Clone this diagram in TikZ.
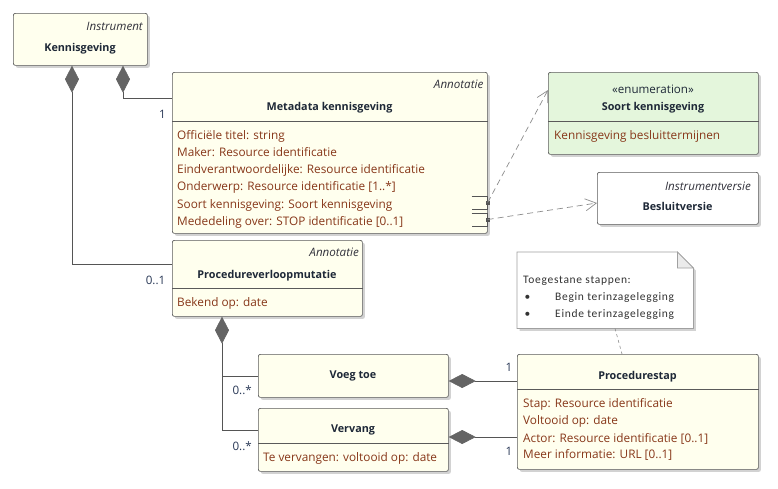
\documentclass[tikz,border=0pt]{standalone}
\usepackage{fontspec}
\setmainfont{Open Sans}
\newfontfamily\notefont[LetterSpace=6]{Carlito}
\usetikzlibrary{arrows.meta,shadows,calc}
\definecolor{clsfill}{RGB}{255,255,238}
\definecolor{enumfill}{RGB}{228,246,220}
\definecolor{boxline}{RGB}{90,90,90}
\definecolor{attrcol}{RGB}{135,55,25}
\definecolor{titlecol}{RGB}{30,40,55}
\definecolor{stereocol}{RGB}{50,50,60}
\definecolor{multcol}{RGB}{40,55,85}
\definecolor{linecol}{RGB}{85,85,85}
\definecolor{diacol}{RGB}{100,100,100}
\definecolor{dashcol}{RGB}{140,140,140}
\definecolor{notecol}{RGB}{160,160,160}
\tikzset{
  cbox/.style={draw=boxline, line width=0.7pt, rounded corners=2pt, anchor=north west, inner sep=0pt, fill=clsfill,
    drop shadow={shadow xshift=2.5pt, shadow yshift=-2.5pt, fill=black!35, opacity=0.5}},
  divider/.style={draw=boxline, line width=0.7pt},
  attr/.style={anchor=base west, inner sep=0pt, text=attrcol, font=\fontsize{11.8}{13}\selectfont},
  ctitle/.style={anchor=base, inner sep=0pt, text=titlecol, font=\fontsize{10.8}{12}\selectfont\bfseries},
  stereo/.style={anchor=base east, inner sep=0pt, text=stereocol, font=\fontsize{11.6}{13}\selectfont\itshape},
  mult/.style={anchor=base east, inner sep=0pt, text=multcol, font=\fontsize{11.6}{13}\selectfont},
  conn/.style={draw=linecol, line width=0.7pt},
  comp/.style={conn, {Diamond[length=27pt,width=14pt,fill=diacol,color=diacol]}-},
  dep/.style={draw=dashcol, line width=0.7pt, dash pattern=on 6pt off 4pt, -{Straight Barb[length=11pt,width=12pt]}},
  notetext/.style={anchor=base west, inner sep=0pt, text=black!80, font=\notefont\fontsize{11.5}{13}\selectfont},
}
\begin{document}
\begin{tikzpicture}[x=1pt,y=-1pt]
\useasboundingbox (0,0) rectangle (778,488);

% ---------- boxes ----------
\node[cbox, minimum width=134pt, minimum height=52pt] (kg) at (13,13) {};
\node[cbox, minimum width=315pt, minimum height=161pt] (md) at (172,72) {};
\node[cbox, fill=enumfill, minimum width=210pt, minimum height=82pt] (en) at (548,72) {};
\node[cbox, fill=white, minimum width=161pt, minimum height=52pt] (bv) at (597,172) {};
\node[cbox, minimum width=190pt, minimum height=76pt] (pv) at (172,240) {};
\node[cbox, minimum width=190pt, minimum height=43pt] (vt) at (258,354) {};
\node[cbox, minimum width=190pt, minimum height=63pt] (vv) at (258,408) {};
\node[cbox, minimum width=241pt, minimum height=115pt] (ps) at (517,354) {};

% dividers
\draw[divider] ($(md.north west)+(0,49)$) -- ($(md.north east)+(0,49)$);
\draw[divider] ($(en.north west)+(0,49)$) -- ($(en.north east)+(0,49)$);
\draw[divider] ($(pv.north west)+(0,48)$) -- ($(pv.north east)+(0,48)$);
\draw[divider] ($(vv.north west)+(0,35)$) -- ($(vv.north east)+(0,35)$);
\draw[divider] ($(ps.north west)+(0,35)$) -- ($(ps.north east)+(0,35)$);

% note
\node[anchor=north west, minimum width=176pt, minimum height=76pt, inner sep=0pt] (nt) at (517,252) {};
\fill[black!35, opacity=0.5] ($(nt.north west)+(2.5,2.5)$) -- ($(nt.north east)+(-13.5,2.5)$) -- ($(nt.north east)+(2.5,18.5)$) -- ($(nt.south east)+(2.5,2.5)$) -- ($(nt.south west)+(2.5,2.5)$) -- cycle;
\draw[draw=notecol, fill=white, line width=0.7pt] (nt.north west) -- ($(nt.north east)+(-16,0)$) -- ($(nt.north east)+(0,16)$) -- (nt.south east) -- (nt.south west) -- cycle;
\draw[draw=notecol, fill=black!8, line width=0.7pt] ($(nt.north east)+(-16,0)$) -- ($(nt.north east)+(-16,16)$) -- ($(nt.north east)+(0,16)$) -- cycle;

% ---------- texts ----------
\node[stereo] (kgs) at (143,30) {Instrument};
\node[ctitle] (kgt) at (80,51) {Kennisgeving};

\node[stereo] (mds) at (483.5,88) {Annotatie};
\node[ctitle] (mdt) at (329.5,110) {Metadata kennisgeving};
\node[attr] (mda1) at (177,139.2) {Officiële titel: string};
\node[attr] (mda2) at (177,156.4) {Maker: Resource identificatie};
\node[attr] (mda3) at (177,173.6) {Eindverantwoordelijke: Resource identificatie};
\node[attr] (mda4) at (177,190.8) {Onderwerp: Resource identificatie [1..*]};
\node[attr] (mda5) at (177,208.0) {Soort kennisgeving: Soort kennisgeving};
\node[attr] (mda6) at (177,225.2) {Mededeling over: STOP identificatie [0..1]};

\node[anchor=base, inner sep=0pt, text=titlecol, font=\fontsize{11.6}{13}\selectfont] (ens) at (653,93) {«enumeration»};
\node[ctitle] (ent) at (653,110) {Soort kennisgeving};
\node[attr] (ena1) at (554,139.2) {Kennisgeving besluittermijnen};

\node[stereo] (bvs) at (751,190) {Instrumentversie};
\node[ctitle] (bvt) at (677.5,210) {Besluitversie};

\node[stereo] (pvs) at (359,256.5) {Annotatie};
\node[ctitle] (pvt) at (267,278.5) {Procedureverloopmutatie};
\node[attr] (pva1) at (177,306.8) {Bekend op: date};

\node[ctitle] (vtt) at (353,378.2) {Voeg toe};
\node[ctitle] (vvt) at (353,432.3) {Vervang};
\node[attr] (vva1) at (263,461.4) {Te vervangen: voltooid op: date};

\node[ctitle] (pst) at (637.5,379.2) {Procedurestap};
\node[attr] (psa1) at (523,407.4) {Stap: Resource identificatie};
\node[attr] (psa2) at (523,424.7) {Voltooid op: date};
\node[attr] (psa3) at (523,442.0) {Actor: Resource identificatie [0..1]};
\node[attr] (psa4) at (523,458.2) {Meer informatie: URL [0..1]};

\node[notetext] (ntt) at (523,283.5) {Toegestane stappen:};
\node[notetext] (ntb1) at (524.5,300.5) {•};
\node[notetext] (ntl1) at (555,300.5) {Begin terinzagelegging};
\node[notetext] (ntb2) at (524.5,317.2) {•};
\node[notetext] (ntl2) at (555,317.2) {Einde terinzagelegging};

% multiplicities
\node[mult] (m1) at (166,118) {1};
\node[mult] (m2) at (165.5,284) {0..1};
\node[mult] (m3) at (252,394.5) {0..*};
\node[mult] (m4) at (252,450) {0..*};
\node[mult, anchor=base] (m5) at (509,371.8) {1};
\node[mult, anchor=base] (m6) at (509,455.8) {1};

% ---------- connectors ----------
\coordinate (kgl) at ($(kg.south west)+(59,0)$);
\coordinate (kgr) at ($(kg.south west)+(110,0)$);
\draw[comp] (kgl) |- ($(pv.north west)+(0,24.5)$);
\draw[comp] (kgr) |- ($(md.north west)+(0,26.5)$);

\coordinate (pvd) at ($(pv.south west)+(50,0)$);
\draw[comp] (pvd) |- ($(vv.north west)+(0,22)$);
\draw[conn] (vt.west) -- (vt.west -| pvd);

\coordinate (a1) at ($(vt.north east)+(0,27)$);
\coordinate (a2) at ($(vv.north east)+(0,29)$);
\draw[comp] (a1) -- (a1 -| ps.west);
\draw[comp] (a2) -- (a2 -| ps.west);

% ports on Metadata kennisgeving
\coordinate (p1) at ($(md.north east)+(0,130.5)$);
\coordinate (p2) at ($(md.north east)+(0,147.5)$);
\draw[conn, line width=0.6pt] ($(p1)+(-16,-6.5)$) -- ($(p1)+(0,-6.5)$) -- ($(p1)+(0,6.5)$) -- ($(p1)+(-16,6.5)$);
\draw[conn, line width=0.6pt] ($(p2)+(-16,-6.5)$) -- ($(p2)+(0,-6.5)$) -- ($(p2)+(0,6.5)$) -- ($(p2)+(-16,6.5)$);
\fill[linecol] ($(p1)+(-2,-2)$) rectangle ($(p1)+(2.5,2)$);
\fill[linecol] ($(p2)+(-2,-2)$) rectangle ($(p2)+(2.5,2)$);

\draw[dep] (p1) -- ($(en.north west)+(0,18)$);
\draw[dep] (p2) -- ($(bv.north west)+(0,31)$);

% note link
\draw[draw=dashcol, line width=0.6pt, dash pattern=on 3pt off 3pt] ($(nt.south west)+(98,0)$) -- ($(ps.north west)+(105,0)$);
\end{tikzpicture}
\end{document}
